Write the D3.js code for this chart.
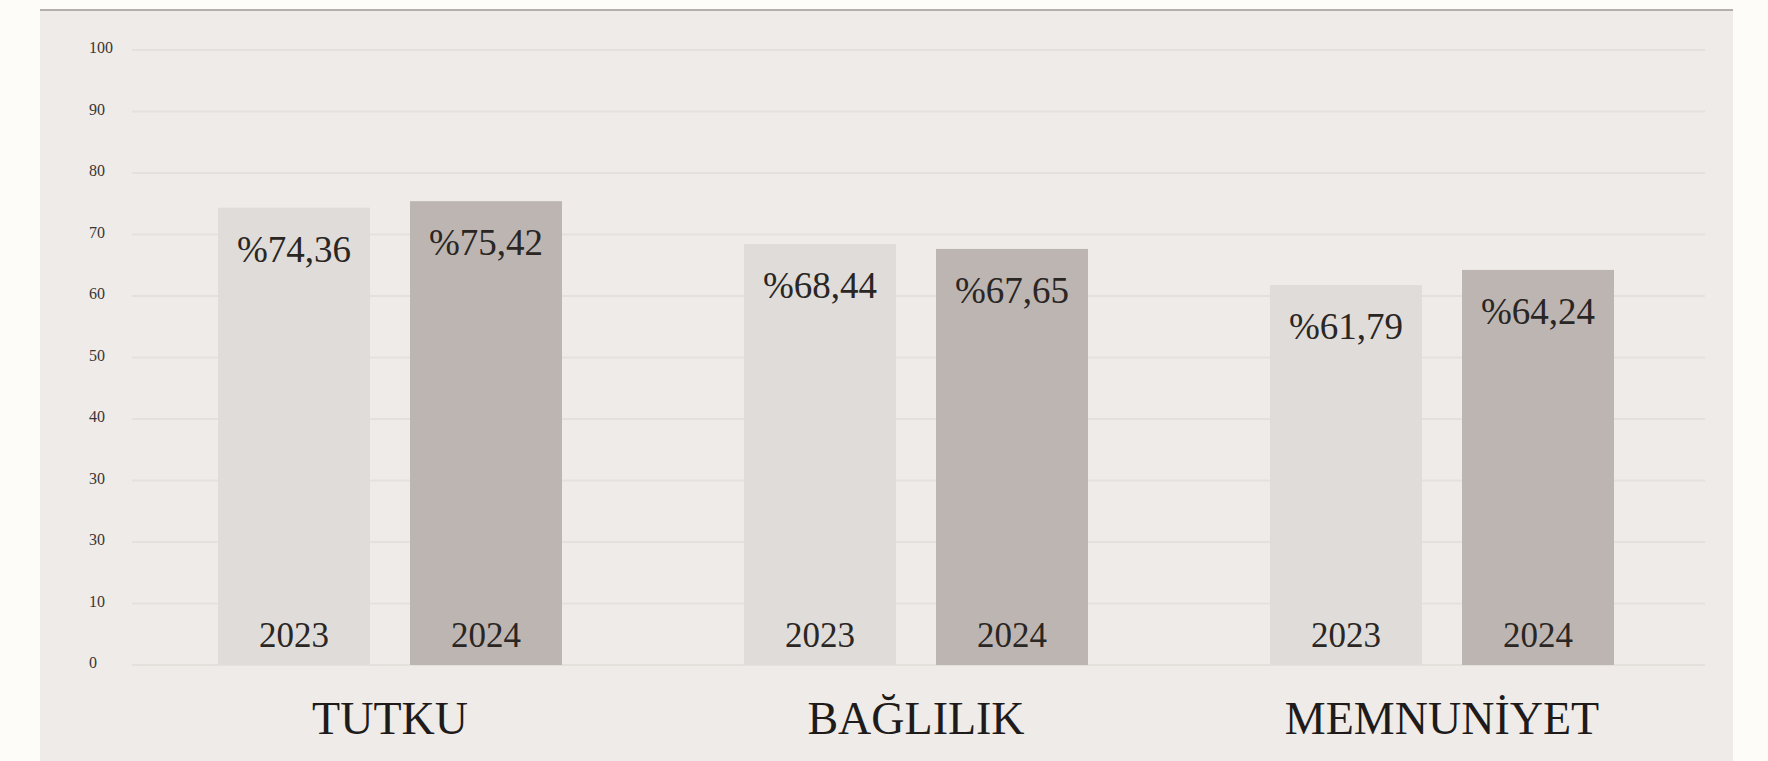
<!DOCTYPE html>
<html><head><meta charset="utf-8">
<script src="https://cdn.jsdelivr.net/npm/d3@7"></script>
<style>html,body{margin:0;padding:0;background:#fdfcf9;}svg{display:block;}</style>
</head><body><svg id="c" width="1768" height="761"></svg>
<script>
const categories = ["TUTKU", "BAĞLILIK", "MEMNUNİYET"];
const years = ["2023", "2024"];
const values2023 = [74.36, 68.44, 61.79];
const values2024 = [75.42, 67.65, 64.24];
const valueLabels2023 = ["%74,36", "%68,44", "%61,79"];
const valueLabels2024 = ["%75,42", "%67,65", "%64,24"];
const tickValues = [100, 90, 80, 70, 60, 50, 40, 30, 20, 10, 0];
const tickLabels = ["100", "90", "80", "70", "60", "50", "40", "30", "30", "10", "0"];

const svg = d3.select("#c");
const W = 1768, H = 761;
const serif = "'Liberation Serif', 'DejaVu Serif', serif";
const colors = {"2023": "#dfdcd9", "2024": "#bdb5b2"};

// panel
svg.append("rect").attr("x", 40).attr("y", 10).attr("width", 1693).attr("height", H - 10).attr("fill", "#eeebe8");
svg.append("line").attr("x1", 40).attr("x2", 1733).attr("y1", 10).attr("y2", 10).attr("stroke", "#b3b0ac").attr("stroke-width", 2);

const y = d3.scaleLinear().domain([0, 100]).range([665, 50]);
const x0 = d3.scaleBand().domain(categories).range([127, 1705]);
const x1 = d3.scaleBand().domain(years).range([-172, 172]).paddingInner(0.2083);

// gridlines
const grid = svg.append("g");
grid.selectAll("line").data(tickValues).join("line")
  .attr("x1", 132).attr("x2", 1705)
  .attr("y1", d => y(d)).attr("y2", d => y(d))
  .attr("stroke", "#e4e1dd").attr("stroke-width", 2);
grid.selectAll("text").data(tickValues).join("text")
  .attr("x", 89).attr("y", d => y(d) + 3)
  .attr("font-family", serif).attr("font-size", 16).attr("fill", "#3a3533")
  .text((d, i) => tickLabels[i]);

const rows = [];
categories.forEach((c, i) => {
  rows.push({cat: c, year: "2023", v: values2023[i], lab: valueLabels2023[i]});
  rows.push({cat: c, year: "2024", v: values2024[i], lab: valueLabels2024[i]});
});
const cx = d => x0(d.cat) + x0.bandwidth() / 2 + x1(d.year);

const g = svg.append("g");
g.selectAll("rect").data(rows).join("rect")
  .attr("x", cx).attr("width", x1.bandwidth())
  .attr("y", d => y(d.v)).attr("height", d => y(0) - y(d.v))
  .attr("fill", d => colors[d.year]);

g.selectAll("text.val").data(rows).join("text").attr("class", "val")
  .attr("x", d => cx(d) + x1.bandwidth() / 2).attr("y", d => y(d.v) + 54)
  .attr("text-anchor", "middle").attr("font-family", serif).attr("font-size", 37)
  .attr("fill", "#2a2624").text(d => d.lab);

g.selectAll("text.yr").data(rows).join("text").attr("class", "yr")
  .attr("x", d => cx(d) + x1.bandwidth() / 2).attr("y", 647)
  .attr("text-anchor", "middle").attr("font-family", serif).attr("font-size", 35)
  .attr("fill", "#2a2624").text(d => d.year);

svg.append("g").selectAll("text").data(categories).join("text")
  .attr("x", d => x0(d) + x0.bandwidth() / 2).attr("y", 734)
  .attr("text-anchor", "middle").attr("font-family", serif).attr("font-size", 46)
  .attr("fill", "#1e1b1a").text(d => d);
</script></body></html>
